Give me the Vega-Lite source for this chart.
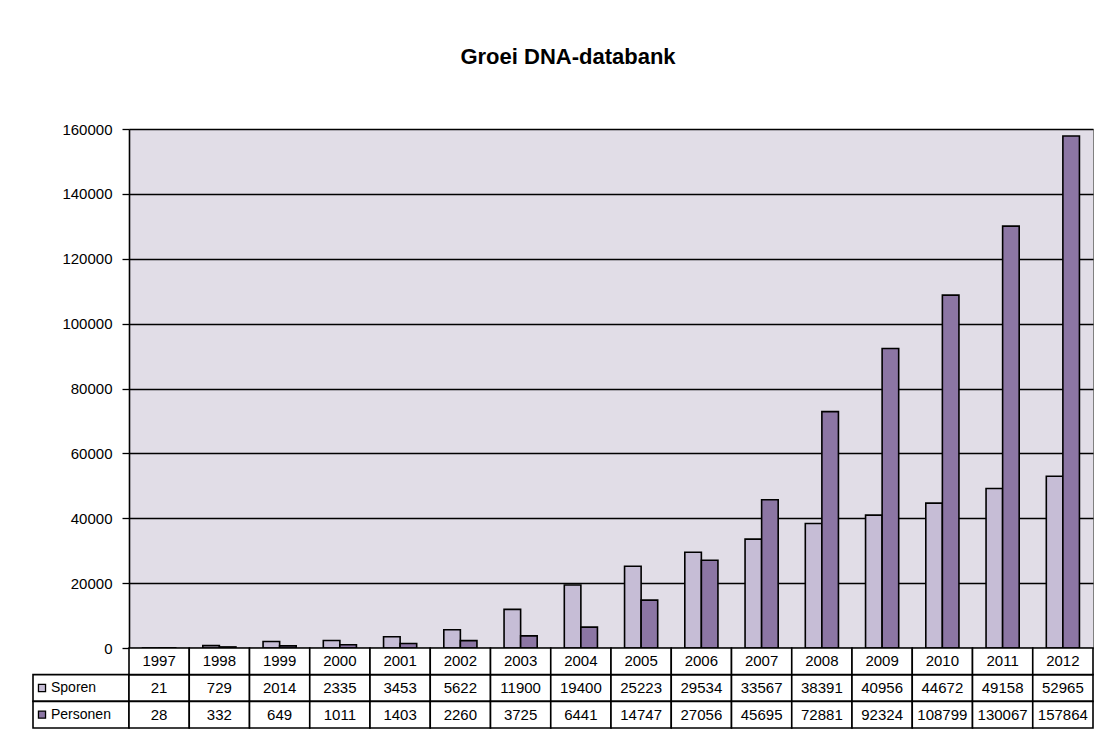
{
  "$schema": "https://vega.github.io/schema/vega-lite/v6.json",
  "padding": {"left": 32, "top": 45, "right": 20, "bottom": 10},
  "background": "white",
  "title": {"text": "Groei DNA-databank", "fontSize": 22, "font": "Liberation Sans", "fontWeight": "bold", "anchor": "middle", "dx": 5, "offset": 53, "color": "black"},
  "columns": 2,
  "spacing": 0,
  "bounds": "flush",
  "datasets": {
    "d": [
      {"year": "1997", "series": "Sporen", "value": 21},
      {"year": "1997", "series": "Personen", "value": 28},
      {"year": "1998", "series": "Sporen", "value": 729},
      {"year": "1998", "series": "Personen", "value": 332},
      {"year": "1999", "series": "Sporen", "value": 2014},
      {"year": "1999", "series": "Personen", "value": 649},
      {"year": "2000", "series": "Sporen", "value": 2335},
      {"year": "2000", "series": "Personen", "value": 1011},
      {"year": "2001", "series": "Sporen", "value": 3453},
      {"year": "2001", "series": "Personen", "value": 1403},
      {"year": "2002", "series": "Sporen", "value": 5622},
      {"year": "2002", "series": "Personen", "value": 2260},
      {"year": "2003", "series": "Sporen", "value": 11900},
      {"year": "2003", "series": "Personen", "value": 3725},
      {"year": "2004", "series": "Sporen", "value": 19400},
      {"year": "2004", "series": "Personen", "value": 6441},
      {"year": "2005", "series": "Sporen", "value": 25223},
      {"year": "2005", "series": "Personen", "value": 14747},
      {"year": "2006", "series": "Sporen", "value": 29534},
      {"year": "2006", "series": "Personen", "value": 27056},
      {"year": "2007", "series": "Sporen", "value": 33567},
      {"year": "2007", "series": "Personen", "value": 45695},
      {"year": "2008", "series": "Sporen", "value": 38391},
      {"year": "2008", "series": "Personen", "value": 72881},
      {"year": "2009", "series": "Sporen", "value": 40956},
      {"year": "2009", "series": "Personen", "value": 92324},
      {"year": "2010", "series": "Sporen", "value": 44672},
      {"year": "2010", "series": "Personen", "value": 108799},
      {"year": "2011", "series": "Sporen", "value": 49158},
      {"year": "2011", "series": "Personen", "value": 130067},
      {"year": "2012", "series": "Sporen", "value": 52965},
      {"year": "2012", "series": "Personen", "value": 157864}
    ]
  },
  "concat": [
    {
      "width": 96,
      "height": 519,
      "data": {"values": [{"t": ""}]},
      "mark": {"type": "text"},
      "encoding": {"text": {"field": "t", "type": "nominal"}}
    },
    {
      "width": 964,
      "height": 519,
      "data": {"name": "d"},
      "view": {"fill": "#E1DDE7", "stroke": "#808080", "strokeWidth": 1},
      "mark": {"type": "bar", "stroke": "black", "strokeWidth": 1.6},
      "encoding": {
        "x": {"field": "year", "type": "nominal", "scale": {"paddingInner": 0.45, "paddingOuter": 0.225}, "axis": null},
        "xOffset": {"field": "series", "type": "nominal", "sort": ["Sporen", "Personen"]},
        "y": {
          "field": "value", "type": "quantitative",
          "scale": {"domain": [0, 160000], "nice": false},
          "axis": {
            "values": [0, 20000, 40000, 60000, 80000, 100000, 120000, 140000, 160000],
            "format": "d",
            "title": null,
            "grid": true, "gridColor": "black", "gridOpacity": 1, "gridWidth": 1.3,
            "domainColor": "black", "domainWidth": 1.6,
            "tickColor": "black", "tickSize": 7, "tickWidth": 1.3,
            "labelFontSize": 15, "labelColor": "black", "labelPadding": 10, "labelFont": "Liberation Sans"
          }
        },
        "color": {"field": "series", "type": "nominal", "scale": {"domain": ["Sporen", "Personen"], "range": ["#C6BDD6", "#8C76A4"]}, "legend": null}
      }
    },
    {
      "width": 96,
      "height": 80,
      "data": {"values": [{"row": "Sporen"}, {"row": "Personen"}]},
      "encoding": {
        "y": {"field": "row", "type": "nominal", "scale": {"domain": ["Jaar", "Sporen", "Personen"], "paddingInner": 0, "paddingOuter": 0}, "axis": null}
      },
      "layer": [
        {"mark": {"type": "rect", "fill": "white", "stroke": "black", "strokeWidth": 1.6}},
        {
          "mark": {"type": "point", "shape": "square", "filled": true, "stroke": "black", "strokeWidth": 1.3, "size": 50, "opacity": 1, "xOffset": -39},
          "encoding": {"color": {"field": "row", "type": "nominal", "scale": {"domain": ["Sporen", "Personen"], "range": ["#C6BDD6", "#8C76A4"]}, "legend": null}}
        },
        {
          "mark": {"type": "text", "align": "left", "dx": -30, "fontSize": 14, "font": "Liberation Sans", "color": "black"},
          "encoding": {"text": {"field": "row", "type": "nominal"}}
        }
      ]
    },
    {
      "width": 964,
      "height": 80,
      "data": {"name": "d"},
      "encoding": {
        "x": {"field": "year", "type": "nominal", "scale": {"paddingInner": 0, "paddingOuter": 0}, "axis": null}
      },
      "layer": [
        {
          "mark": {"type": "rect", "fill": "white", "stroke": "black", "strokeWidth": 1.6},
          "encoding": {"y": {"field": "series", "type": "nominal", "scale": {"domain": ["Jaar", "Sporen", "Personen"], "paddingInner": 0, "paddingOuter": 0}, "axis": null}}
        },
        {
          "transform": [{"filter": "datum.series === 'Sporen'"}],
          "mark": {"type": "rect", "fill": "white", "stroke": "black", "strokeWidth": 1.6},
          "encoding": {"y": {"datum": "Jaar", "type": "nominal"}}
        },
        {
          "mark": {"type": "text", "fontSize": 15, "font": "Liberation Sans", "color": "black"},
          "encoding": {
            "y": {"field": "series", "type": "nominal"},
            "text": {"field": "value", "type": "quantitative", "format": "d"}
          }
        },
        {
          "transform": [{"filter": "datum.series === 'Sporen'"}],
          "mark": {"type": "text", "fontSize": 15, "font": "Liberation Sans", "color": "black"},
          "encoding": {
            "y": {"datum": "Jaar", "type": "nominal"},
            "text": {"field": "year", "type": "nominal"}
          }
        }
      ]
    }
  ],
  "config": {
    "view": {"stroke": null},
    "font": "Liberation Sans"
  }
}
